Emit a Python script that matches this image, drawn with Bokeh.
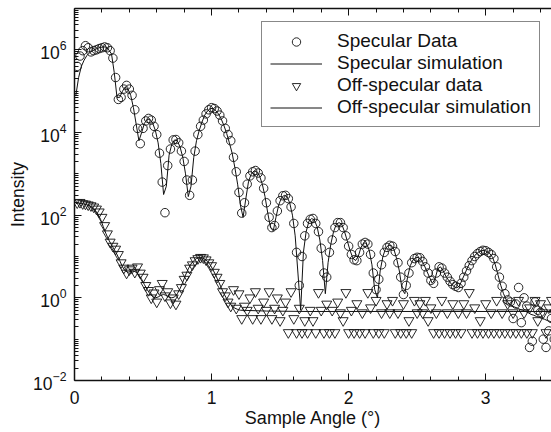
import numpy as np
from bokeh.plotting import figure
from bokeh.models import (Range1d, FixedTicker, LinearAxis, Legend, LegendItem,
                          ColumnDataSource)
from bokeh.embed import file_html
from bokeh.resources import INLINE

# ---------------- data (log10 of intensity) ----------------
# specular data: angles 0.02 .. 3.50 step 0.02
spec_x = np.round(np.arange(1, 176) * 0.02, 2)
spec_log10 = [
    5.60, 5.85, 5.98, 6.10, 6.05, 5.95, 5.98, 6.00, 6.03, 6.05,
    6.07, 6.05, 5.98, 5.80, 5.33, 4.80, 4.85, 5.05, 5.14, 5.05,
    4.90, 4.55, 4.10, 3.73, 4.10, 4.28, 4.34, 4.30, 4.15, 3.95,
    3.50, 2.80, 2.06, 3.20, 3.60, 3.82, 3.83, 3.75, 3.55, 3.30,
    2.85, 2.48, 2.85, 3.55, 3.95, 4.15, 4.30, 4.45, 4.55, 4.60,
    4.58, 4.52, 4.42, 4.28, 4.10, 3.95, 3.80, 3.40, 3.05, 2.55,
    2.05, 2.30, 2.75, 2.95, 3.05, 3.08, 3.02, 2.90, 2.65, 2.30,
    1.95, 1.70, 1.75, 2.10, 2.35, 2.47, 2.48, 2.40, 2.20, 1.80,
    1.10, 0.30, 1.00, 1.50, 1.80, 1.90, 1.92, 1.80, 1.60, 1.20,
    0.60, 0.50, 1.10, 1.40, 1.70, 1.82, 1.82, 1.70, 1.50, 1.25,
    1.05, 0.92, 0.90, 1.10, 1.30, 1.34, 1.30, 1.05, 0.60, 0.20,
    0.45, 0.80, 1.10, 1.22, 1.27, 1.25, 1.12, 0.85, 0.50, 0.08,
    0.30, 0.60, 0.85, 0.95, 0.98, 0.97, 0.88, 0.75, 0.60, 0.42,
    0.35, 0.60, 0.75, 0.72, 0.60, 0.50, 0.40, 0.32, 0.28, 0.25,
    0.35, 0.50, 0.65, 0.78, 0.90, 1.00, 1.07, 1.12, 1.15, 1.14,
    1.10, 1.05, 0.95, 0.75, 0.50, 0.28, 0.10, -0.05, -0.10, -0.50,
    -0.15, 0.25, -0.60, 0.00, -0.20, -1.20, -1.05, -0.10, -0.30, -0.35,
    -1.00, -1.20, -0.80, -0.50, -1.00,
]

# specular simulation: angles 0.01 .. 3.49 step 0.02
sim_x = np.round(0.01 + np.arange(175) * 0.02, 2)
spec_sim_log10 = [
    4.90, 5.33, 5.60, 5.75, 5.86, 5.93, 5.97, 6.01, 6.04, 6.06,
    6.07, 6.07, 6.00, 5.90, 5.45, 4.85, 4.85, 5.00, 5.10, 5.05,
    4.90, 4.60, 4.20, 3.80, 4.00, 4.22, 4.32, 4.32, 4.23, 4.05,
    3.75, 3.25, 2.50, 2.70, 3.45, 3.72, 3.82, 3.80, 3.65, 3.40,
    3.00, 2.45, 2.70, 3.40, 3.80, 4.05, 4.25, 4.42, 4.52, 4.58,
    4.58, 4.53, 4.45, 4.33, 4.17, 3.98, 3.75, 3.50, 3.15, 2.75,
    2.25, 1.95, 2.40, 2.82, 3.00, 3.07, 3.05, 2.95, 2.75, 2.45,
    2.05, 1.70, 1.62, 1.95, 2.25, 2.42, 2.48, 2.45, 2.30, 2.00,
    1.50, 0.60, -0.30, 1.10, 1.60, 1.85, 1.92, 1.88, 1.72, 1.40,
    0.90, 0.10, 0.85, 1.30, 1.60, 1.78, 1.82, 1.78, 1.60, 1.38,
    1.15, 0.97, 0.90, 1.00, 1.22, 1.33, 1.32, 1.15, 0.80, 0.20,
    0.00, 0.65, 1.00, 1.20, 1.27, 1.27, 1.18, 0.95, 0.65, 0.20,
    0.10, 0.50, 0.78, 0.92, 0.97, 0.98, 0.92, 0.80, 0.65, 0.50,
    0.35, 0.45, 0.70, 0.75, 0.65, 0.52, 0.42, 0.33, 0.27, 0.24,
    0.30, 0.45, 0.60, 0.75, 0.88, 0.98, 1.06, 1.11, 1.14, 1.15,
    1.12, 1.07, 0.98, 0.80, 0.55, 0.30, 0.10, -0.05, -0.15, -0.20,
    -0.22, -0.25, -0.28, -0.30, -0.33, -0.36, -0.40, -0.42, -0.45, -0.47,
    -0.50, -0.52, -0.55, -0.57, -0.60,
]

# off-specular data: angles 0.02 .. 3.50 step 0.02
off_log10 = [
    2.30, 2.31, 2.28, 2.27, 2.25, 2.23, 2.20, 2.15, 2.08, 1.95,
    1.75, 1.55, 1.35, 1.25, 1.18, 1.05, 0.85, 0.72, 0.60, 0.68,
    0.72, 0.62, 0.75, 0.60, 0.50, 0.30, 0.18, 0.00, 0.12, -0.10,
    0.20, 0.35, 0.05, 0.15, -0.12, 0.00, -0.15, 0.10, 0.25, 0.45,
    0.55, 0.72, 0.80, 0.90, 0.95, 0.98, 0.97, 0.92, 0.85, 0.78,
    0.62, 0.50, 0.35, 0.15, 0.05, -0.10, -0.20, 0.20, -0.25, 0.10,
    -0.50, -0.20, -0.30, 0.00, -0.50, 0.15, -0.25, -0.50, -0.10, -0.30,
    0.15, -0.50, -0.25, 0.00, -0.55, -0.30, -0.10, -0.84, 0.15, -0.50,
    -0.84, -0.25, -0.84, -0.55, -0.84, -0.30, -0.55, -0.84, 0.13, -0.30,
    -0.84, -0.15, -0.84, -0.30, -0.84, -0.10, -0.36, -0.55, 0.13, -0.84,
    -0.30, -0.84, -0.14, -0.84, -0.36, -0.84, 0.13, -0.24, -0.84, -0.06,
    -0.84, -0.36, -0.84, -0.14, -0.36, -0.06, -0.84, -0.36, -0.84, -0.14,
    -0.84, -0.55, -0.84, -0.06, -0.36, -0.14, -0.36, -0.06, -0.55, -0.24,
    -0.84, -0.36, -0.84, -0.06, -0.84, -0.36, -0.84, -0.14, -0.84, -0.36,
    -0.84, -0.14, -0.36, 0.13, -0.84, -0.24, -0.84, -0.55, -0.84, -0.14,
    -0.84, -0.36, -0.84, -0.06, -0.84, -0.36, -0.84, -0.14, -0.84, -0.36,
    -0.84, -0.06, -0.84, -0.36, -0.84, -0.24, -0.84, -0.06, -0.55, -0.14,
    -0.36, -0.84, -0.24, -0.06, -0.36,
]

# off-specular simulation
off_sim_x = [
    0.01, 0.03, 0.05, 0.07, 0.09, 0.11, 0.13, 0.15, 0.17, 0.19,
    0.21, 0.23, 0.25, 0.27, 0.29, 0.31, 0.33, 0.35, 0.37, 0.39,
    0.41, 0.43, 0.45, 0.47, 0.49, 0.51, 0.53, 0.55, 0.57, 0.59,
    0.61, 0.63, 0.65, 0.67, 0.69, 0.71, 0.73, 0.75, 0.77, 0.79,
    0.81, 0.83, 0.85, 0.87, 0.89, 0.91, 0.93, 0.95, 0.97, 0.99,
    1.01, 1.03, 1.05, 1.07, 1.09, 1.11, 1.13, 1.15, 1.17, 1.19,
    1.21, 1.40, 1.70, 2.00, 2.30, 2.60, 2.90, 3.20, 3.48,
]
off_sim_log10 = [
    2.28, 2.29, 2.28, 2.27, 2.25, 2.22, 2.18, 2.12, 2.03, 1.90,
    1.72, 1.55, 1.40, 1.28, 1.17, 1.05, 0.90, 0.75, 0.65, 0.62,
    0.64, 0.65, 0.62, 0.55, 0.45, 0.32, 0.20, 0.10, 0.03, 0.00,
    0.02, 0.06, 0.08, 0.06, 0.02, 0.00, 0.02, 0.10, 0.22, 0.38,
    0.55, 0.70, 0.82, 0.90, 0.95, 0.97, 0.97, 0.94, 0.88, 0.80,
    0.68, 0.55, 0.40, 0.25, 0.10, -0.02, -0.12, -0.20, -0.25, -0.28,
    -0.30, -0.32, -0.33, -0.33, -0.33, -0.33, -0.33, -0.33, -0.33,
]

# ticks
x_major = [0, 1, 2, 3]
x_minor = [0.2, 0.4, 0.6, 0.8, 1.2, 1.4, 1.6, 1.8, 2.2, 2.4, 2.6, 2.8, 3.2, 3.4]
y_major = [1e-2, 1e0, 1e2, 1e4, 1e6]
y_minor = [m * 10.0 ** e for e in range(-2, 7) for m in range(1, 10)
           if not (m == 1 and 10.0 ** e in y_major)] + [1e7]

labels = ["Specular Data", "Specular simulation", "Off-specular data", "Off-specular simulation"]

FONT = "Liberation Sans"
INK = "#111111"

# ---------------- figure ----------------
p = figure(width=551, height=432, x_range=Range1d(0, 3.48), y_range=Range1d(1e-2, 1e7),
           y_axis_type="log", output_backend="svg", toolbar_location=None,
           min_border_left=74, min_border_right=0, min_border_top=8, min_border_bottom=52)
p.xgrid.grid_line_color = None
p.ygrid.grid_line_color = None
p.outline_line_color = None
p.background_fill_color = "white"
p.border_fill_color = "white"

spec_src = ColumnDataSource(dict(x=spec_x, y=10.0 ** np.array(spec_log10)))
spec_sim_src = ColumnDataSource(dict(x=sim_x, y=10.0 ** np.array(spec_sim_log10)))
off_src = ColumnDataSource(dict(x=spec_x, y=10.0 ** np.array(off_log10)))
off_sim_src = ColumnDataSource(dict(x=off_sim_x, y=10.0 ** np.array(off_sim_log10)))

r1 = p.scatter("x", "y", source=spec_src, marker="circle", size=8.5,
               fill_color=None, line_color=INK, line_width=0.9)
r2 = p.line("x", "y", source=spec_sim_src, line_color=INK, line_width=1)
r3 = p.scatter("x", "y", source=off_src, marker="inverted_triangle", size=10,
               fill_color=None, line_color=INK, line_width=0.9)
r4 = p.line("x", "y", source=off_sim_src, line_color=INK, line_width=1)


def style_axis(ax):
    ax.axis_line_color = INK
    ax.axis_line_width = 1.5
    ax.major_tick_line_color = INK
    ax.minor_tick_line_color = INK
    ax.major_tick_in = 7
    ax.major_tick_out = 0
    ax.minor_tick_in = 4
    ax.minor_tick_out = 0
    ax.major_label_text_font = FONT
    ax.major_label_text_font_size = "17.5px"
    ax.major_label_text_color = INK
    ax.axis_label_text_font = FONT
    ax.axis_label_text_font_size = "18px"
    ax.axis_label_text_font_style = "normal"
    ax.axis_label_text_color = INK


xax = p.xaxis[0]
xax.ticker = FixedTicker(ticks=x_major, minor_ticks=x_minor)
style_axis(xax)
xax.axis_label = "Sample Angle (°)"
xax.major_label_standoff = 10
xax.axis_label_standoff = 1

yax = p.yaxis[0]
yax.ticker = FixedTicker(ticks=y_major, minor_ticks=y_minor)
style_axis(yax)
yax.axis_label = "Intensity"
yax.axis_label_text_font_size = "17.5px"
yax.major_label_standoff = 8
yax.axis_label_standoff = 2

top = LinearAxis(ticker=FixedTicker(ticks=x_major, minor_ticks=x_minor))
style_axis(top)
top.major_label_overrides = {t: "" for t in x_major}
top.major_label_standoff = 0
p.add_layout(top, "above")

legend = Legend(items=[LegendItem(label=labels[0], renderers=[r1]),
                       LegendItem(label=labels[1], renderers=[r2]),
                       LegendItem(label=labels[2], renderers=[r3]),
                       LegendItem(label=labels[3], renderers=[r4])],
                location=(187, 253), padding=8, spacing=0, margin=0,
                glyph_width=52, glyph_height=21, label_height=21, label_standoff=15,
                label_text_font=FONT, label_text_font_size="19px", label_text_color=INK,
                border_line_color=INK, border_line_width=1,
                background_fill_color="white", background_fill_alpha=1)
p.add_layout(legend)

open("out.html", "w").write(file_html(p, INLINE))
